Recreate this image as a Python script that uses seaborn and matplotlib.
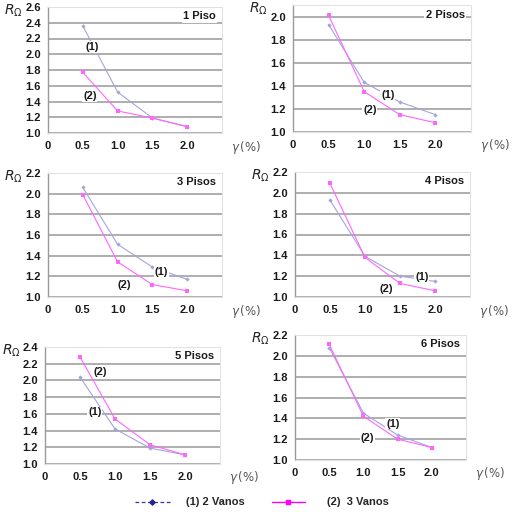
import numpy as np
import pandas as pd
import seaborn as sns
import matplotlib.pyplot as plt

# Data
gamma = [0.5, 1.0, 1.5, 2.0]
panel_titles = ["1 Piso", "2 Pisos", "3 Pisos", "4 Pisos", "5 Pisos", "6 Pisos"]

r_2vanos = [
    [2.36, 1.52, 1.19, 1.08],
    [1.93, 1.43, 1.26, 1.15],
    [2.06, 1.51, 1.29, 1.17],
    [1.93, 1.39, 1.20, 1.15],
    [2.04, 1.42, 1.19, 1.11],
    [2.08, 1.45, 1.24, 1.12],
]
r_3vanos = [
    [1.77, 1.28, 1.19, 1.08],
    [2.01, 1.35, 1.15, 1.08],
    [1.99, 1.34, 1.12, 1.06],
    [2.09, 1.38, 1.13, 1.06],
    [2.28, 1.54, 1.23, 1.11],
    [2.11, 1.42, 1.20, 1.12],
]
y_max = [2.6, 2.1, 2.2, 2.2, 2.4, 2.2]
x_ticks = [0, 0.5, 1.0, 1.5, 2.0]
x_ticklabels = ["0", "0.5", "1.0", "1.5", "2.0"]

# label positions for "(1)" and "(2)" in data coords
lab1_pos = [(0.64, 2.09), (1.33, 1.32), (1.63, 1.24), (1.81, 1.19), (0.71, 1.62), (1.43, 1.35)]
lab2_pos = [(0.60, 1.47), (1.08, 1.19), (1.09, 1.12), (1.30, 1.08), (0.79, 2.10), (1.06, 1.21)]

# axes boxes in pixels: left, right, top, bottom
boxes = [
    (48, 222, 7, 133),
    (293, 471, 5, 132),
    (48, 222, 173, 297),
    (295, 470, 172, 297),
    (45, 220, 347, 464),
    (295, 466, 335, 460),
]

sns.set_style("white")
plt.rcParams['font.family'] = ['Liberation Sans', 'DejaVu Sans']

c1 = "#a4a4dc"
c2 = "#ff66ff"
W = H = 516
fig = plt.figure(figsize=(5.16, 5.16), dpi=100)

for i in range(6):
    l, r, t, b = boxes[i]
    ax = fig.add_axes([l / W, (H - b) / H, (r - l) / W, (b - t) / H])
    df = pd.DataFrame({
        "gamma": gamma * 2,
        "R": r_2vanos[i] + r_3vanos[i],
        "serie": ["(1) 2 Vanos"] * 4 + ["(2)  3 Vanos"] * 4,
    })
    sns.lineplot(data=df, x="gamma", y="R", hue="serie", style="serie",
                 palette=[c1, c2], markers=["D", "s"], dashes=False,
                 markersize=2.2, markeredgewidth=0, linewidth=0.8,
                 legend=False, ax=ax)
    ax.set_xlim(0, 2.5)
    ax.set_ylim(1.0, y_max[i])
    ax.set_xticks(x_ticks)
    ax.set_xticklabels(x_ticklabels)
    yt = np.arange(1.0, y_max[i] + 0.001, 0.2)
    ax.set_yticks(yt)
    ax.set_yticklabels([f"{v:.1f}" for v in yt])
    ax.tick_params(axis="both", length=0, labelsize=8, colors="#1a1a1a")
    ax.tick_params(axis="y", pad=5)
    ax.tick_params(axis="x", pad=6)
    for lab in ax.get_xticklabels() + ax.get_yticklabels():
        lab.set_fontweight("bold")
    ax.grid(axis="y", color="#a8a8a8", linewidth=1.3)
    ax.grid(axis="x", visible=False)
    for side in ["top", "right", "bottom"]:
        ax.spines[side].set_color("#e2e2e2")
        ax.spines[side].set_linewidth(0.8)
    ax.spines["left"].set_color("#999999")
    ax.spines["left"].set_linewidth(1.0)
    ax.set_xlabel("")
    ax.set_ylabel("")

    ax.text(0.965, 0.925, panel_titles[i], transform=ax.transAxes, ha="right",
            va="center", fontsize=8, fontweight="bold", color="#1a1a1a",
            bbox=dict(facecolor="white", edgecolor="none", pad=1))
    ax.text(*lab1_pos[i], "(1)", ha="center", va="center", fontsize=8,
            fontweight="bold", color="#1a1a1a",
            bbox=dict(facecolor="white", edgecolor="none", pad=0.5))
    ax.text(*lab2_pos[i], "(2)", ha="center", va="center", fontsize=8,
            fontweight="bold", color="#1a1a1a",
            bbox=dict(facecolor="white", edgecolor="none", pad=0.5))

    # axis symbols
    fig.text(max(l - 44, 2) / W, (H - t - 4) / H, r"$R_\Omega$", fontsize=10,
             ha="left", va="center", color="#222222")
    fig.text((r + 9) / W, (H - b - 14) / H, r"$\gamma\,\left(\%\right)$",
             fontsize=8.5, ha="left", va="center", color="#555555")

# legend at the bottom
lx = fig.add_axes([0, 0, 1, 0.06])
lx.set_axis_off()
lx.set_xlim(0, W)
lx.set_ylim(0, 1)
lx.plot([135, 170], [0.45, 0.45], color="#3333aa", linestyle=(0, (3, 2)),
        linewidth=0.9)
lx.plot([272, 305], [0.45, 0.45], color="#ff00ff", linewidth=1.0)
lx.scatter([152], [0.45], marker="D", s=7, color="#222288", zorder=3)
lx.scatter([288], [0.45], marker="s", s=7, color="#ff00ff", zorder=3)
lx.text(186, 0.45, "(1) 2 Vanos", fontsize=8, fontweight="bold", va="center")
lx.text(327, 0.45, "(2)  3 Vanos", fontsize=8, fontweight="bold", va="center")

fig.savefig("out.png", dpi=100)
